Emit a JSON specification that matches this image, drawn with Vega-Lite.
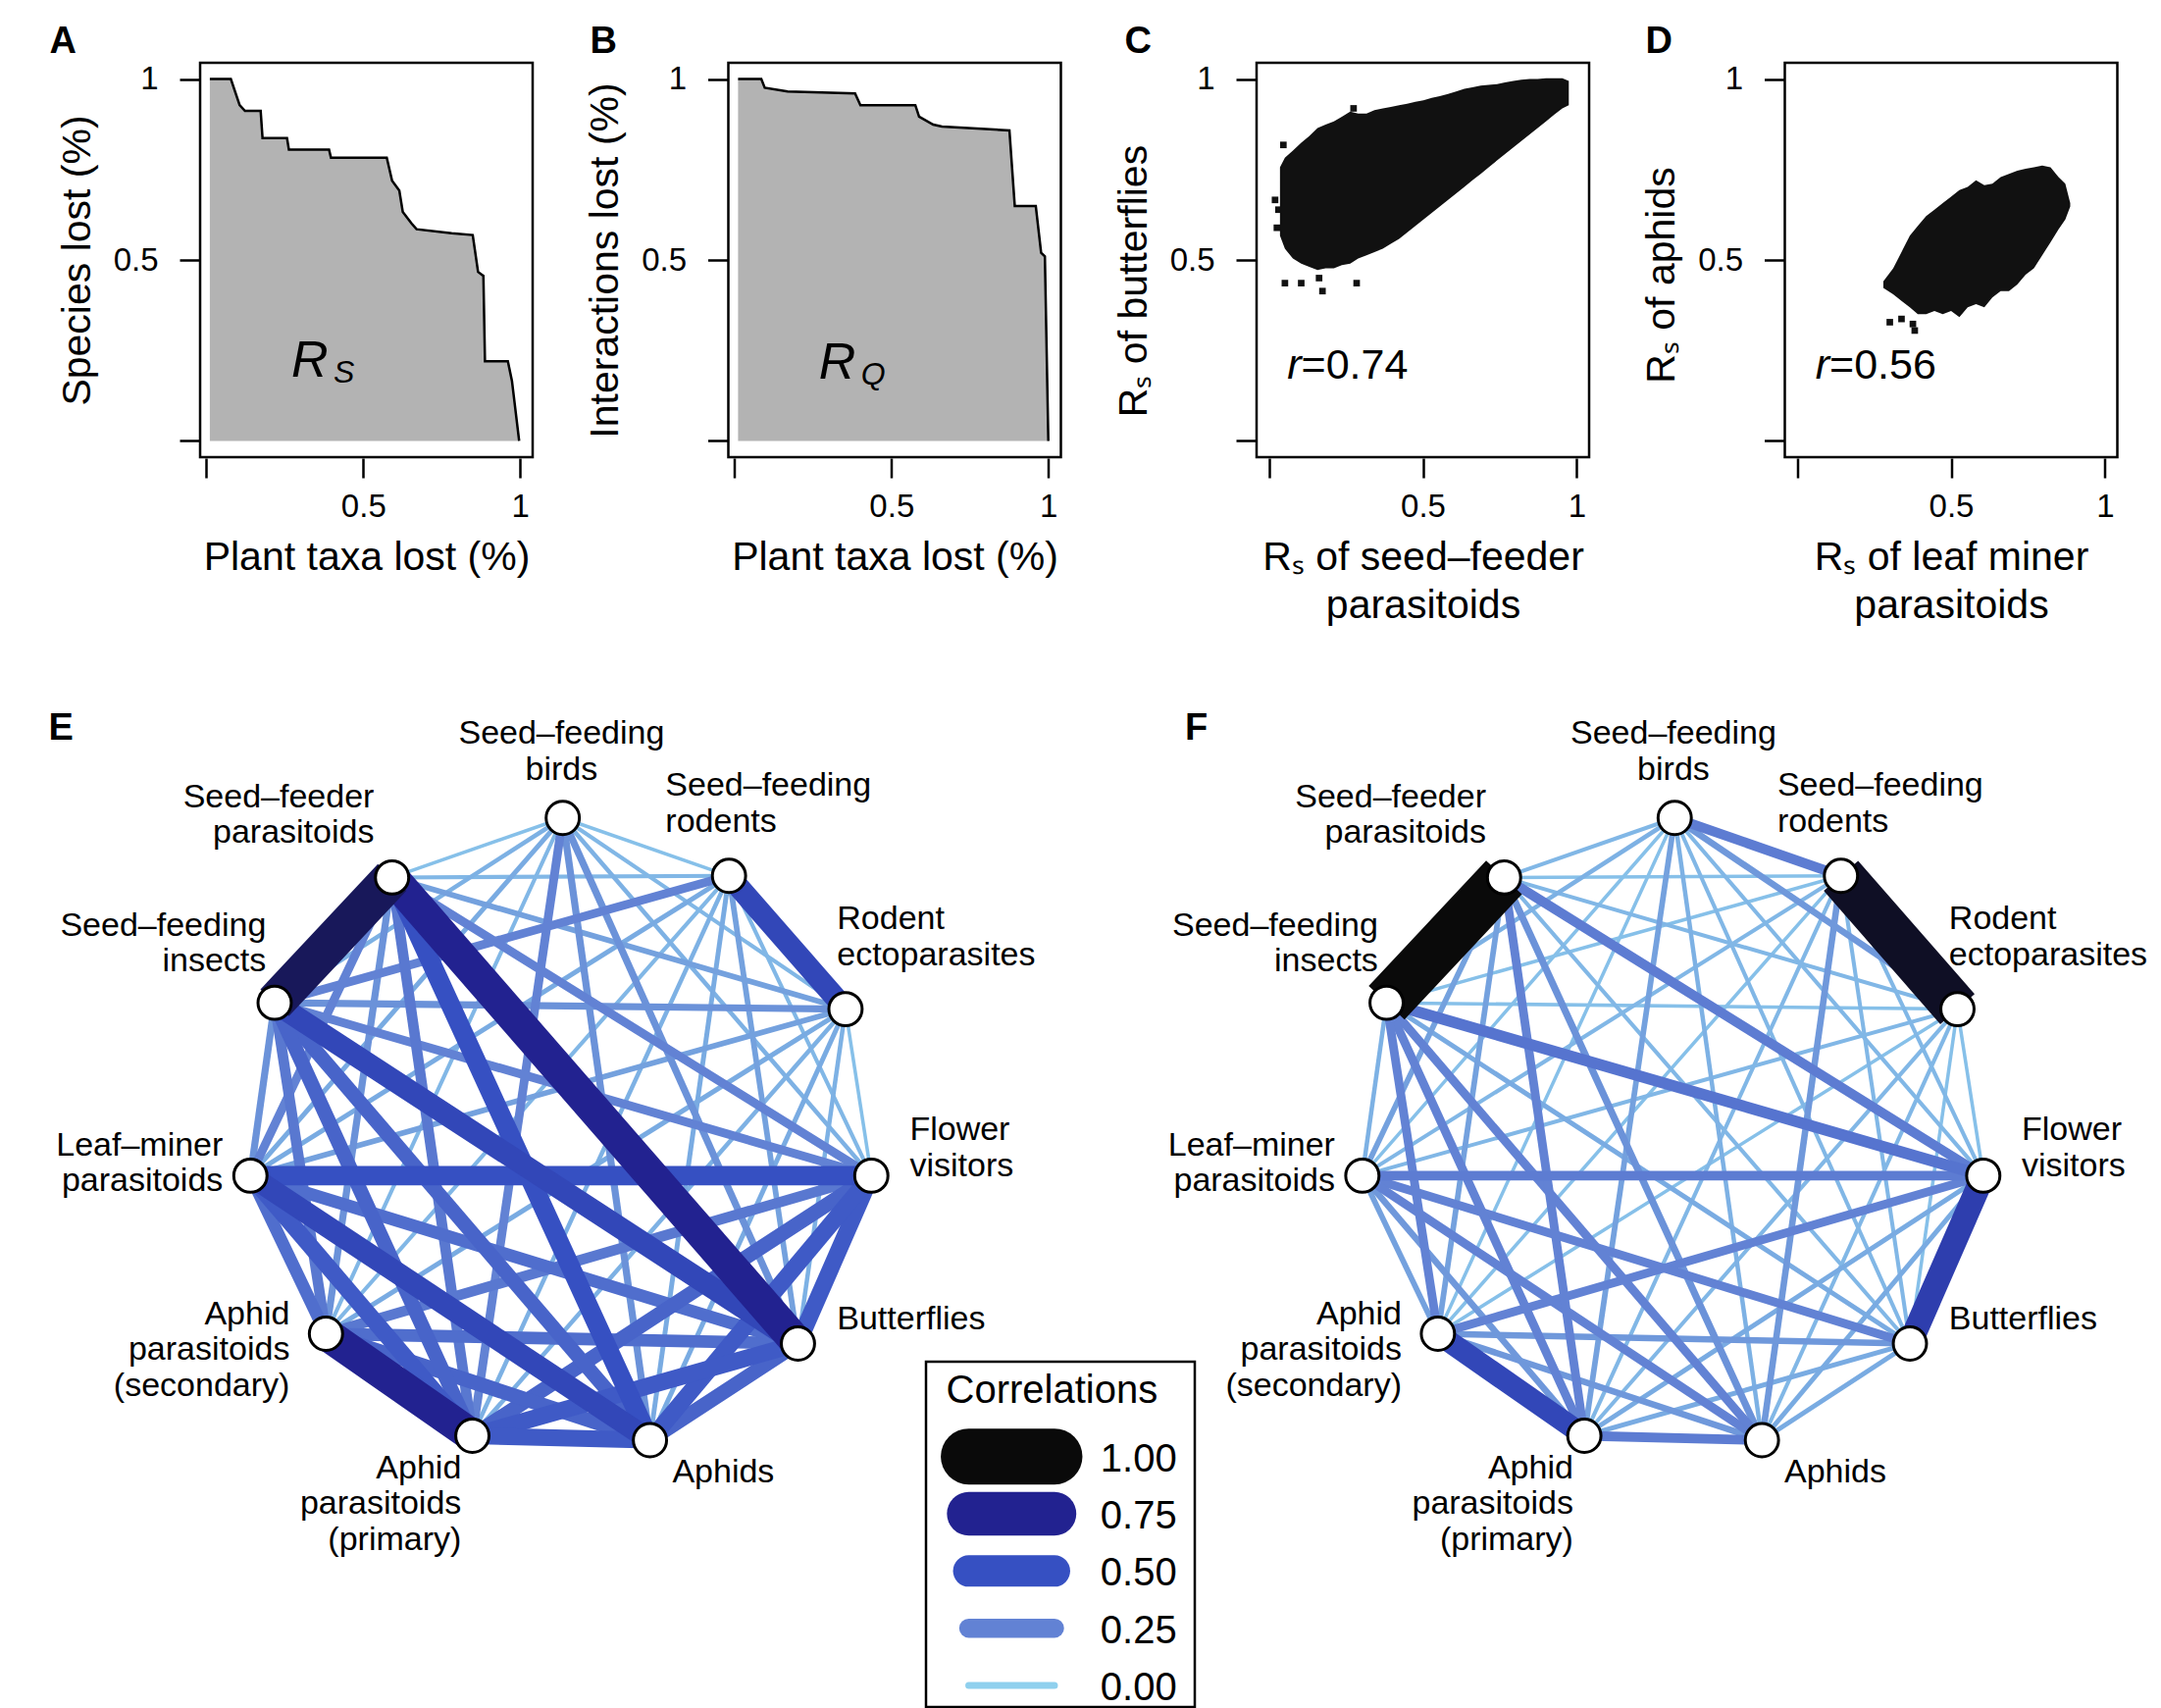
{
"$schema": "https://vega.github.io/schema/vega-lite/v6.json",
"background": "white",
"padding": {"left": 49, "top": 22, "right": 10, "bottom": 0},
"autosize": {"type": "pad"},
"config": {
  "font": "Liberation Sans",
  "view": {"stroke": "black", "strokeWidth": 2.5},
  "axis": {"domain": false, "grid": false, "tickColor": "black", "tickWidth": 2.5, "tickSize": 20, "offset": 1,
    "labelColor": "black", "labelFontSize": 33, "labelFont": "Liberation Sans", "labelFlush": false, "labelOverlap": false,
    "titleFontSize": 41, "titleFontWeight": "normal", "titleColor": "black", "titleFont": "Liberation Sans",
    "format": ".1~f", "labelExpr": "datum.value === 0 ? '' : datum.label"},
  "axisX": {"labelPadding": 13, "titlePadding": 15, "titleLineHeight": 49},
  "axisY": {"labelPadding": 22, "titlePadding": 15, "labelAngle": 0},
  "title": {"fontSize": 38, "fontWeight": "bold", "anchor": "start", "frame": "group", "baseline": "alphabetic", "offset": 2, "color": "black", "font": "Liberation Sans"},
  "text": {"font": "Liberation Sans", "color": "black"}
},
"datasets": {
  "stepA": [{"x":0.011,"y":1.0},{"x":0.078,"y":1.0},{"x":0.106,"y":0.928},{"x":0.123,"y":0.912},{"x":0.173,"y":0.912},{"x":0.179,"y":0.837},{"x":0.257,"y":0.837},{"x":0.263,"y":0.805},{"x":0.391,"y":0.805},{"x":0.397,"y":0.783},{"x":0.575,"y":0.783},{"x":0.592,"y":0.719},{"x":0.615,"y":0.692},{"x":0.626,"y":0.633},{"x":0.654,"y":0.601},{"x":0.670,"y":0.585},{"x":0.782,"y":0.574},{"x":0.849,"y":0.569},{"x":0.866,"y":0.467},{"x":0.883,"y":0.456},{"x":0.888,"y":0.220},{"x":0.961,"y":0.220},{"x":0.974,"y":0.166},{"x":0.997,"y":0.0}],
  "stepB": [{"x":0.011,"y":1.0},{"x":0.085,"y":1.0},{"x":0.096,"y":0.976},{"x":0.169,"y":0.966},{"x":0.384,"y":0.960},{"x":0.401,"y":0.928},{"x":0.576,"y":0.928},{"x":0.588,"y":0.896},{"x":0.633,"y":0.874},{"x":0.661,"y":0.869},{"x":0.876,"y":0.858},{"x":0.893,"y":0.649},{"x":0.960,"y":0.649},{"x":0.977,"y":0.520},{"x":0.989,"y":0.510},{"x":1.0,"y":0.0}],
  "blobC": [{"x":0.036,"lo":0.567,"hi":0.756},{"x":0.052,"lo":0.531,"hi":0.783},{"x":0.078,"lo":0.504,"hi":0.802},{"x":0.105,"lo":0.490,"hi":0.824},{"x":0.131,"lo":0.481,"hi":0.842},{"x":0.158,"lo":0.472,"hi":0.865},{"x":0.184,"lo":0.477,"hi":0.874},{"x":0.211,"lo":0.477,"hi":0.883},{"x":0.237,"lo":0.486,"hi":0.896},{"x":0.264,"lo":0.490,"hi":0.910},{"x":0.290,"lo":0.504,"hi":0.905},{"x":0.317,"lo":0.513,"hi":0.905},{"x":0.343,"lo":0.522,"hi":0.914},{"x":0.370,"lo":0.531,"hi":0.919},{"x":0.396,"lo":0.545,"hi":0.923},{"x":0.423,"lo":0.558,"hi":0.928},{"x":0.449,"lo":0.576,"hi":0.932},{"x":0.476,"lo":0.594,"hi":0.937},{"x":0.502,"lo":0.612,"hi":0.941},{"x":0.529,"lo":0.630,"hi":0.948},{"x":0.555,"lo":0.648,"hi":0.953},{"x":0.582,"lo":0.666,"hi":0.959},{"x":0.608,"lo":0.684,"hi":0.966},{"x":0.635,"lo":0.702,"hi":0.973},{"x":0.661,"lo":0.720,"hi":0.977},{"x":0.688,"lo":0.738,"hi":0.982},{"x":0.714,"lo":0.756,"hi":0.984},{"x":0.741,"lo":0.775,"hi":0.986},{"x":0.767,"lo":0.793,"hi":0.991},{"x":0.794,"lo":0.811,"hi":0.995},{"x":0.820,"lo":0.829,"hi":0.998},{"x":0.847,"lo":0.847,"hi":1.0},{"x":0.873,"lo":0.865,"hi":1.0},{"x":0.900,"lo":0.883,"hi":1.002},{"x":0.926,"lo":0.901,"hi":1.002},{"x":0.953,"lo":0.919,"hi":1.002},{"x":0.974,"lo":0.928,"hi":0.995}],
  "strayC": [{"x":0.047,"y":0.818},{"x":0.020,"y":0.666},{"x":0.031,"y":0.639},{"x":0.026,"y":0.589},{"x":0.052,"y":0.436},{"x":0.105,"y":0.436},{"x":0.163,"y":0.450},{"x":0.174,"y":0.414},{"x":0.285,"y":0.436},{"x":0.275,"y":0.919}],
  "blobD": [{"x":0.280,"lo":0.423,"hi":0.441},{"x":0.312,"lo":0.405,"hi":0.477},{"x":0.339,"lo":0.387,"hi":0.522},{"x":0.366,"lo":0.369,"hi":0.567},{"x":0.392,"lo":0.350,"hi":0.594},{"x":0.419,"lo":0.350,"hi":0.621},{"x":0.446,"lo":0.359,"hi":0.639},{"x":0.473,"lo":0.350,"hi":0.657},{"x":0.500,"lo":0.359,"hi":0.675},{"x":0.527,"lo":0.342,"hi":0.693},{"x":0.554,"lo":0.369,"hi":0.702},{"x":0.581,"lo":0.378,"hi":0.720},{"x":0.608,"lo":0.369,"hi":0.707},{"x":0.634,"lo":0.396,"hi":0.711},{"x":0.661,"lo":0.414,"hi":0.729},{"x":0.688,"lo":0.414,"hi":0.738},{"x":0.715,"lo":0.432,"hi":0.747},{"x":0.742,"lo":0.459,"hi":0.752},{"x":0.769,"lo":0.477,"hi":0.756},{"x":0.796,"lo":0.513,"hi":0.761},{"x":0.823,"lo":0.549,"hi":0.756},{"x":0.849,"lo":0.585,"hi":0.729},{"x":0.871,"lo":0.612,"hi":0.711},{"x":0.887,"lo":0.648,"hi":0.657}],
  "strayD": [{"x":0.301,"y":0.328},{"x":0.339,"y":0.337},{"x":0.376,"y":0.323},{"x":0.382,"y":0.305}],
  "nodes": [
    {"id":"SFB","x":0.004,"y":1.004,"label":"Seed–feeding\nbirds","lx":0,"ly":1.271},
    {"id":"SFR","x":0.532,"y":0.820,"label":"Seed–feeding\nrodents","lx":0.33,"ly":1.106},
    {"id":"RE","x":0.902,"y":0.397,"label":"Rodent\nectoparasites","lx":0.875,"ly":0.682},
    {"id":"FV","x":0.984,"y":-0.132,"label":"Flower\nvisitors","lx":1.106,"ly":0.012},
    {"id":"BF","x":0.751,"y":-0.665,"label":"Butterflies","lx":0.875,"ly":-0.589},
    {"id":"AP","x":0.281,"y":-0.972,"label":"Aphids","lx":0.352,"ly":-1.075},
    {"id":"APP","x":-0.283,"y":-0.958,"label":"Aphid\nparasitoids\n(primary)","lx":-0.318,"ly":-1.062},
    {"id":"APS","x":-0.748,"y":-0.634,"label":"Aphid\nparasitoids\n(secondary)","lx":-0.863,"ly":-0.573},
    {"id":"LMP","x":-0.988,"y":-0.132,"label":"Leaf–miner\nparasitoids","lx":-1.075,"ly":-0.036},
    {"id":"SFI","x":-0.911,"y":0.417,"label":"Seed–feeding\ninsects","lx":-0.938,"ly":0.662},
    {"id":"SFP","x":-0.538,"y":0.815,"label":"Seed–feeder\nparasitoids","lx":-0.595,"ly":1.070}
  ],
  "edgesE": [
    {"from":"SFB","to":"SFR","c":0.05},{"from":"SFB","to":"RE","c":0.08},{"from":"SFB","to":"FV","c":0.10},{"from":"SFB","to":"BF","c":0.20},{"from":"SFB","to":"AP","c":0.20},{"from":"SFB","to":"APP","c":0.25},{"from":"SFB","to":"APS","c":0.08},{"from":"SFB","to":"LMP","c":0.12},{"from":"SFB","to":"SFI","c":0.10},{"from":"SFB","to":"SFP","c":0.05},
    {"from":"SFR","to":"RE","c":0.55},{"from":"SFR","to":"FV","c":0.08},{"from":"SFR","to":"BF","c":0.15},{"from":"SFR","to":"AP","c":0.12},{"from":"SFR","to":"APP","c":0.10},{"from":"SFR","to":"APS","c":0.08},{"from":"SFR","to":"LMP","c":0.12},{"from":"SFR","to":"SFI","c":0.25},{"from":"SFR","to":"SFP","c":0.08},
    {"from":"RE","to":"FV","c":0.05},{"from":"RE","to":"BF","c":0.10},{"from":"RE","to":"AP","c":0.12},{"from":"RE","to":"APP","c":0.10},{"from":"RE","to":"APS","c":0.12},{"from":"RE","to":"LMP","c":0.15},{"from":"RE","to":"SFI","c":0.20},{"from":"RE","to":"SFP","c":0.15},
    {"from":"FV","to":"BF","c":0.45},{"from":"FV","to":"AP","c":0.45},{"from":"FV","to":"APP","c":0.40},{"from":"FV","to":"APS","c":0.30},{"from":"FV","to":"LMP","c":0.50},{"from":"FV","to":"SFI","c":0.25},{"from":"FV","to":"SFP","c":0.25},
    {"from":"BF","to":"AP","c":0.40},{"from":"BF","to":"APP","c":0.45},{"from":"BF","to":"APS","c":0.35},{"from":"BF","to":"LMP","c":0.35},{"from":"BF","to":"SFI","c":0.55},{"from":"BF","to":"SFP","c":0.75},
    {"from":"AP","to":"APP","c":0.45},{"from":"AP","to":"APS","c":0.40},{"from":"AP","to":"LMP","c":0.55},{"from":"AP","to":"SFI","c":0.40},{"from":"AP","to":"SFP","c":0.50},
    {"from":"APP","to":"APS","c":0.75},{"from":"APP","to":"LMP","c":0.45},{"from":"APP","to":"SFI","c":0.40},{"from":"APP","to":"SFP","c":0.30},
    {"from":"APS","to":"LMP","c":0.35},{"from":"APS","to":"SFI","c":0.30},{"from":"APS","to":"SFP","c":0.20},
    {"from":"LMP","to":"SFI","c":0.20},{"from":"LMP","to":"SFP","c":0.25},
    {"from":"SFI","to":"SFP","c":0.85}
  ],
  "edgesF": [
    {"from":"SFB","to":"SFR","c":0.28},{"from":"SFB","to":"RE","c":0.18},{"from":"SFB","to":"FV","c":0.08},{"from":"SFB","to":"BF","c":0.08},{"from":"SFB","to":"AP","c":0.10},{"from":"SFB","to":"APP","c":0.15},{"from":"SFB","to":"APS","c":0.05},{"from":"SFB","to":"LMP","c":0.05},{"from":"SFB","to":"SFI","c":0.10},{"from":"SFB","to":"SFP","c":0.08},
    {"from":"SFR","to":"RE","c":0.95},{"from":"SFR","to":"FV","c":0.08},{"from":"SFR","to":"BF","c":0.08},{"from":"SFR","to":"AP","c":0.18},{"from":"SFR","to":"APP","c":0.08},{"from":"SFR","to":"APS","c":0.05},{"from":"SFR","to":"LMP","c":0.08},{"from":"SFR","to":"SFI","c":0.05},{"from":"SFR","to":"SFP","c":0.05},
    {"from":"RE","to":"FV","c":0.05},{"from":"RE","to":"BF","c":0.05},{"from":"RE","to":"AP","c":0.08},{"from":"RE","to":"APP","c":0.08},{"from":"RE","to":"APS","c":0.05},{"from":"RE","to":"LMP","c":0.08},{"from":"RE","to":"SFI","c":0.05},{"from":"RE","to":"SFP","c":0.08},
    {"from":"FV","to":"BF","c":0.60},{"from":"FV","to":"AP","c":0.12},{"from":"FV","to":"APP","c":0.12},{"from":"FV","to":"APS","c":0.25},{"from":"FV","to":"LMP","c":0.28},{"from":"FV","to":"SFI","c":0.32},{"from":"FV","to":"SFP","c":0.28},
    {"from":"BF","to":"AP","c":0.12},{"from":"BF","to":"APP","c":0.12},{"from":"BF","to":"APS","c":0.18},{"from":"BF","to":"LMP","c":0.25},{"from":"BF","to":"SFI","c":0.12},{"from":"BF","to":"SFP","c":0.08},
    {"from":"AP","to":"APP","c":0.28},{"from":"AP","to":"APS","c":0.18},{"from":"AP","to":"LMP","c":0.25},{"from":"AP","to":"SFI","c":0.25},{"from":"AP","to":"SFP","c":0.20},
    {"from":"APP","to":"APS","c":0.55},{"from":"APP","to":"LMP","c":0.18},{"from":"APP","to":"SFI","c":0.25},{"from":"APP","to":"SFP","c":0.25},
    {"from":"APS","to":"LMP","c":0.15},{"from":"APS","to":"SFI","c":0.25},{"from":"APS","to":"SFP","c":0.15},
    {"from":"LMP","to":"SFI","c":0.10},{"from":"LMP","to":"SFP","c":0.15},
    {"from":"SFI","to":"SFP","c":1.00}
  ],
  "legend": [{"c":1,"label":"1.00"},{"c":0.75,"label":"0.75"},{"c":0.5,"label":"0.50"},{"c":0.25,"label":"0.25"},{"c":0,"label":"0.00"}]
},
"spacing": 85,
"resolve": {"scale": {"x": "independent", "y": "independent", "color": "independent", "strokeWidth": "independent"}},
"vconcat": [
  {
    "hconcat": [
      {
        "width": 339, "height": 402,
        "title": {"text": "A", "dx": -153.6},
        "layer": [
          {"data": {"name": "stepA"}, "mark": {"type": "area", "color": "#b3b3b3"},
           "encoding": {
             "x": {"field": "x", "type": "quantitative", "scale": {"domain": [-0.02, 1.04], "nice": false, "zero": false}, "axis": {"title": "Plant taxa lost (%)", "values": [0, 0.5, 1]}},
             "y": {"field": "y", "type": "quantitative", "scale": {"domain": [-0.045, 1.045], "nice": false, "zero": false}, "axis": {"title": "Species lost (%)", "values": [0, 0.5, 1]}},
             "y2": {"datum": 0}}},
          {"data": {"name": "stepA"}, "mark": {"type": "line", "color": "black", "strokeWidth": 2.5},
           "encoding": {"x": {"field": "x", "type": "quantitative"}, "y": {"field": "y", "type": "quantitative"}}},
          {"data": {"values": [{"t": "R"}]}, "mark": {"type": "text", "fontStyle": "italic", "fontSize": 52, "align": "right", "baseline": "alphabetic"},
           "encoding": {"text": {"field": "t"}, "x": {"datum": 0.388, "type": "quantitative"}, "y": {"datum": 0.177, "type": "quantitative"}}},
          {"data": {"values": [{"t": "S"}]}, "mark": {"type": "text", "fontStyle": "italic", "fontSize": 32, "align": "left", "baseline": "alphabetic"},
           "encoding": {"text": {"field": "t"}, "x": {"datum": 0.405, "type": "quantitative"}, "y": {"datum": 0.161, "type": "quantitative"}}}
        ]
      },
      {
        "width": 339, "height": 402,
        "title": {"text": "B", "dx": -141},
        "layer": [
          {"data": {"name": "stepB"}, "mark": {"type": "area", "color": "#b3b3b3"},
           "encoding": {
             "x": {"field": "x", "type": "quantitative", "scale": {"domain": [-0.02, 1.04], "nice": false, "zero": false}, "axis": {"title": "Plant taxa lost (%)", "values": [0, 0.5, 1]}},
             "y": {"field": "y", "type": "quantitative", "scale": {"domain": [-0.045, 1.045], "nice": false, "zero": false}, "axis": {"title": "Interactions lost (%)", "values": [0, 0.5, 1]}},
             "y2": {"datum": 0}}},
          {"data": {"name": "stepB"}, "mark": {"type": "line", "color": "black", "strokeWidth": 2.5},
           "encoding": {"x": {"field": "x", "type": "quantitative"}, "y": {"field": "y", "type": "quantitative"}}},
          {"data": {"values": [{"t": "R"}]}, "mark": {"type": "text", "fontStyle": "italic", "fontSize": 52, "align": "right", "baseline": "alphabetic"},
           "encoding": {"text": {"field": "t"}, "x": {"datum": 0.386, "type": "quantitative"}, "y": {"datum": 0.172, "type": "quantitative"}}},
          {"data": {"values": [{"t": "Q"}]}, "mark": {"type": "text", "fontStyle": "italic", "fontSize": 32, "align": "left", "baseline": "alphabetic"},
           "encoding": {"text": {"field": "t"}, "x": {"datum": 0.403, "type": "quantitative"}, "y": {"datum": 0.155, "type": "quantitative"}}}
        ]
      },
      {
        "width": 339, "height": 402,
        "title": {"text": "C", "dx": -134.6},
        "layer": [
          {"data": {"name": "blobC"}, "mark": {"type": "area", "color": "#111111"},
           "encoding": {
             "x": {"field": "x", "type": "quantitative", "scale": {"domain": [-0.04, 1.04], "nice": false, "zero": false}, "axis": {"title": ["Rₛ of seed–feeder", "parasitoids"], "values": [0, 0.5, 1]}},
             "y": {"field": "hi", "type": "quantitative", "scale": {"domain": [-0.045, 1.045], "nice": false, "zero": false}, "axis": {"title": "Rₛ of butterflies", "values": [0, 0.5, 1], "titleY": 222}},
             "y2": {"field": "lo"}}},
          {"data": {"name": "strayC"}, "mark": {"type": "square", "color": "#111111", "filled": true, "size": 45, "opacity": 1},
           "encoding": {"x": {"field": "x", "type": "quantitative"}, "y": {"field": "y", "type": "quantitative"}}},
          {"data": {"values": [{"t": "r"}]}, "mark": {"type": "text", "fontStyle": "italic", "fontSize": 43, "align": "right", "baseline": "alphabetic"},
           "encoding": {"text": {"field": "t"}, "x": {"datum": 0.105, "type": "quantitative"}, "y": {"datum": 0.172, "type": "quantitative"}}},
          {"data": {"values": [{"t": "=0.74"}]}, "mark": {"type": "text", "fontSize": 43, "align": "left", "baseline": "alphabetic"},
           "encoding": {"text": {"field": "t"}, "x": {"datum": 0.105, "type": "quantitative"}, "y": {"datum": 0.172, "type": "quantitative"}}}
        ]
      },
      {
        "width": 339, "height": 402,
        "title": {"text": "D", "dx": -142},
        "layer": [
          {"data": {"name": "blobD"}, "mark": {"type": "area", "color": "#111111"},
           "encoding": {
             "x": {"field": "x", "type": "quantitative", "scale": {"domain": [-0.04, 1.04], "nice": false, "zero": false}, "axis": {"title": ["Rₛ of leaf miner", "parasitoids"], "values": [0, 0.5, 1]}},
             "y": {"field": "hi", "type": "quantitative", "scale": {"domain": [-0.045, 1.045], "nice": false, "zero": false}, "axis": {"title": "Rₛ of aphids", "values": [0, 0.5, 1], "titleY": 216}},
             "y2": {"field": "lo"}}},
          {"data": {"name": "strayD"}, "mark": {"type": "square", "color": "#111111", "filled": true, "size": 45, "opacity": 1},
           "encoding": {"x": {"field": "x", "type": "quantitative"}, "y": {"field": "y", "type": "quantitative"}}},
          {"data": {"values": [{"t": "r"}]}, "mark": {"type": "text", "fontStyle": "italic", "fontSize": 43, "align": "right", "baseline": "alphabetic"},
           "encoding": {"text": {"field": "t"}, "x": {"datum": 0.105, "type": "quantitative"}, "y": {"datum": 0.172, "type": "quantitative"}}},
          {"data": {"values": [{"t": "=0.56"}]}, "mark": {"type": "text", "fontSize": 43, "align": "left", "baseline": "alphabetic"},
           "encoding": {"text": {"field": "t"}, "x": {"datum": 0.105, "type": "quantitative"}, "y": {"datum": 0.172, "type": "quantitative"}}}
        ]
      }
    ],
    "spacing": 199.5,
    "bounds": "flush",
    "resolve": {"scale": {"x": "independent", "y": "independent"}}
  },
  {
    "hconcat": [
      {
        "width": 739.4, "height": 352,
        "view": {"stroke": null},
        "title": {"text": "E", "dx": -154.6, "offset": -31},
        "layer": [
          {"data": {"name": "edgesE"},
           "transform": [
             {"lookup": "from", "from": {"data": {"values": [{"id":"SFB","x":0.004,"y":1.004},{"id":"SFR","x":0.532,"y":0.820},{"id":"RE","x":0.902,"y":0.397},{"id":"FV","x":0.984,"y":-0.132},{"id":"BF","x":0.751,"y":-0.665},{"id":"AP","x":0.281,"y":-0.972},{"id":"APP","x":-0.283,"y":-0.958},{"id":"APS","x":-0.748,"y":-0.634},{"id":"LMP","x":-0.988,"y":-0.132},{"id":"SFI","x":-0.911,"y":0.417},{"id":"SFP","x":-0.538,"y":0.815}]}, "key": "id", "fields": ["x", "y"]}, "as": ["xa", "ya"]},
             {"lookup": "to", "from": {"data": {"values": [{"id":"SFB","x":0.004,"y":1.004},{"id":"SFR","x":0.532,"y":0.820},{"id":"RE","x":0.902,"y":0.397},{"id":"FV","x":0.984,"y":-0.132},{"id":"BF","x":0.751,"y":-0.665},{"id":"AP","x":0.281,"y":-0.972},{"id":"APP","x":-0.283,"y":-0.958},{"id":"APS","x":-0.748,"y":-0.634},{"id":"LMP","x":-0.988,"y":-0.132},{"id":"SFI","x":-0.911,"y":0.417},{"id":"SFP","x":-0.538,"y":0.815}]}, "key": "id", "fields": ["x", "y"]}, "as": ["xb", "yb"]}
           ],
           "mark": {"type": "rule", "strokeCap": "butt"},
           "encoding": {
             "x": {"field": "xa", "type": "quantitative", "scale": {"domain": [-1.1477, 1.1558], "nice": false, "zero": false}, "axis": null},
             "y": {"field": "ya", "type": "quantitative", "scale": {"domain": [-1.8193, -0.7227], "nice": false, "zero": false}, "axis": null},
             "x2": {"field": "xb"}, "y2": {"field": "yb"},
             "color": {"field": "c", "type": "quantitative", "scale": {"domain": [0, 0.25, 0.5, 0.75, 1], "range": ["#8fd0ee", "#6282d4", "#3650c2", "#222290", "#0a0a0a"], "interpolate": "rgb"}, "legend": null},
             "strokeWidth": {"field": "c", "type": "quantitative", "scale": {"type": "pow", "exponent": 1.5, "domain": [0, 1], "range": [3, 50]}, "legend": null},
             "order": {"field": "c", "type": "quantitative"}
           }},
          {"data": {"name": "nodes"}, "mark": {"type": "point", "shape": "circle", "filled": true, "fill": "white", "stroke": "black", "strokeWidth": 3, "size": 1150, "opacity": 1},
           "encoding": {"x": {"field": "x", "type": "quantitative"}, "y": {"field": "y", "type": "quantitative"}}},
          {"data": {"name": "nodes"}, "transform": [{"filter": {"field": "id", "oneOf": ["SFB"]}}],
           "mark": {"type": "text", "align": "center", "baseline": "middle", "fontSize": 34, "lineHeight": 36.5, "lineBreak": "\n"},
           "encoding": {"x": {"field": "lx", "type": "quantitative"}, "y": {"field": "ly", "type": "quantitative"}, "text": {"field": "label"}}},
          {"data": {"name": "nodes"}, "transform": [{"filter": {"field": "id", "oneOf": ["SFR", "RE", "FV", "BF", "AP"]}}],
           "mark": {"type": "text", "align": "left", "baseline": "middle", "fontSize": 34, "lineHeight": 36.5, "lineBreak": "\n"},
           "encoding": {"x": {"field": "lx", "type": "quantitative"}, "y": {"field": "ly", "type": "quantitative"}, "text": {"field": "label"}}},
          {"data": {"name": "nodes"}, "transform": [{"filter": {"field": "id", "oneOf": ["APP", "APS", "LMP", "SFI", "SFP"]}}],
           "mark": {"type": "text", "align": "right", "baseline": "middle", "fontSize": 34, "lineHeight": 36.5, "lineBreak": "\n"},
           "encoding": {"x": {"field": "lx", "type": "quantitative"}, "y": {"field": "ly", "type": "quantitative"}, "text": {"field": "label"}}}
        ]
      },
      {
        "width": 274, "height": 352,
        "layer": [
          {"data": {"name": "legend"}, "mark": {"type": "rule", "strokeCap": "round"},
           "encoding": {
             "x": {"datum": 0.159, "type": "quantitative", "scale": {"domain": [0, 1], "nice": false, "zero": false}, "axis": null},
             "x2": {"datum": 0.478},
             "y": {"field": "c", "type": "quantitative", "scale": {"domain": [-0.0943, 1.4145], "nice": false, "zero": false}, "axis": null},
             "color": {"field": "c", "type": "quantitative", "scale": {"domain": [0, 0.25, 0.5, 0.75, 1], "range": ["#8fd0ee", "#6282d4", "#3650c2", "#222290", "#0a0a0a"], "interpolate": "rgb"}, "legend": null},
             "strokeWidth": {"field": "c", "type": "quantitative", "scale": {"domain": [0, 1], "range": [7, 57]}, "legend": null}
           }},
          {"data": {"name": "legend"}, "mark": {"type": "text", "align": "left", "baseline": "middle", "fontSize": 40, "dy": 3},
           "encoding": {"x": {"datum": 0.649, "type": "quantitative"}, "y": {"field": "c", "type": "quantitative"}, "text": {"field": "label"}}},
          {"data": {"values": [{"t": "Correlations"}]}, "mark": {"type": "text", "align": "left", "baseline": "middle", "fontSize": 40},
           "encoding": {"text": {"field": "t"}, "x": {"datum": 0.075, "type": "quantitative"}, "y": {"datum": 1.286, "type": "quantitative"}}}
        ]
      },
      {
        "width": 857.1, "height": 352,
        "view": {"stroke": null},
        "title": {"text": "F", "dx": -10, "offset": -31},
        "layer": [
          {"data": {"name": "edgesF"},
           "transform": [
             {"lookup": "from", "from": {"data": {"values": [{"id":"SFB","x":0.004,"y":1.004},{"id":"SFR","x":0.532,"y":0.820},{"id":"RE","x":0.902,"y":0.397},{"id":"FV","x":0.984,"y":-0.132},{"id":"BF","x":0.751,"y":-0.665},{"id":"AP","x":0.281,"y":-0.972},{"id":"APP","x":-0.283,"y":-0.958},{"id":"APS","x":-0.748,"y":-0.634},{"id":"LMP","x":-0.988,"y":-0.132},{"id":"SFI","x":-0.911,"y":0.417},{"id":"SFP","x":-0.538,"y":0.815}]}, "key": "id", "fields": ["x", "y"]}, "as": ["xa", "ya"]},
             {"lookup": "to", "from": {"data": {"values": [{"id":"SFB","x":0.004,"y":1.004},{"id":"SFR","x":0.532,"y":0.820},{"id":"RE","x":0.902,"y":0.397},{"id":"FV","x":0.984,"y":-0.132},{"id":"BF","x":0.751,"y":-0.665},{"id":"AP","x":0.281,"y":-0.972},{"id":"APP","x":-0.283,"y":-0.958},{"id":"APS","x":-0.748,"y":-0.634},{"id":"LMP","x":-0.988,"y":-0.132},{"id":"SFI","x":-0.911,"y":0.417},{"id":"SFP","x":-0.538,"y":0.815}]}, "key": "id", "fields": ["x", "y"]}, "as": ["xb", "yb"]}
           ],
           "mark": {"type": "rule", "strokeCap": "butt"},
           "encoding": {
             "x": {"field": "xa", "type": "quantitative", "scale": {"domain": [-1.5202, 1.15], "nice": false, "zero": false}, "axis": null},
             "y": {"field": "ya", "type": "quantitative", "scale": {"domain": [-1.8193, -0.7227], "nice": false, "zero": false}, "axis": null},
             "x2": {"field": "xb"}, "y2": {"field": "yb"},
             "color": {"field": "c", "type": "quantitative", "scale": {"domain": [0, 0.25, 0.5, 0.75, 1], "range": ["#8fd0ee", "#6282d4", "#3650c2", "#222290", "#0a0a0a"], "interpolate": "rgb"}, "legend": null},
             "strokeWidth": {"field": "c", "type": "quantitative", "scale": {"type": "pow", "exponent": 1.5, "domain": [0, 1], "range": [3, 50]}, "legend": null},
             "order": {"field": "c", "type": "quantitative"}
           }},
          {"data": {"name": "nodes"}, "mark": {"type": "point", "shape": "circle", "filled": true, "fill": "white", "stroke": "black", "strokeWidth": 3, "size": 1150, "opacity": 1},
           "encoding": {"x": {"field": "x", "type": "quantitative"}, "y": {"field": "y", "type": "quantitative"}}},
          {"data": {"name": "nodes"}, "transform": [{"filter": {"field": "id", "oneOf": ["SFB"]}}],
           "mark": {"type": "text", "align": "center", "baseline": "middle", "fontSize": 34, "lineHeight": 36.5, "lineBreak": "\n"},
           "encoding": {"x": {"field": "lx", "type": "quantitative"}, "y": {"field": "ly", "type": "quantitative"}, "text": {"field": "label"}}},
          {"data": {"name": "nodes"}, "transform": [{"filter": {"field": "id", "oneOf": ["SFR", "RE", "FV", "BF", "AP"]}}],
           "mark": {"type": "text", "align": "left", "baseline": "middle", "fontSize": 34, "lineHeight": 36.5, "lineBreak": "\n"},
           "encoding": {"x": {"field": "lx", "type": "quantitative"}, "y": {"field": "ly", "type": "quantitative"}, "text": {"field": "label"}}},
          {"data": {"name": "nodes"}, "transform": [{"filter": {"field": "id", "oneOf": ["APP", "APS", "LMP", "SFI", "SFP"]}}],
           "mark": {"type": "text", "align": "right", "baseline": "middle", "fontSize": 34, "lineHeight": 36.5, "lineBreak": "\n"},
           "encoding": {"x": {"field": "lx", "type": "quantitative"}, "y": {"field": "ly", "type": "quantitative"}, "text": {"field": "label"}}}
        ]
      }
    ],
    "spacing": 0,
    "bounds": "flush",
    "resolve": {"scale": {"x": "independent", "y": "independent", "color": "independent", "strokeWidth": "independent"}}
  }
]
}
